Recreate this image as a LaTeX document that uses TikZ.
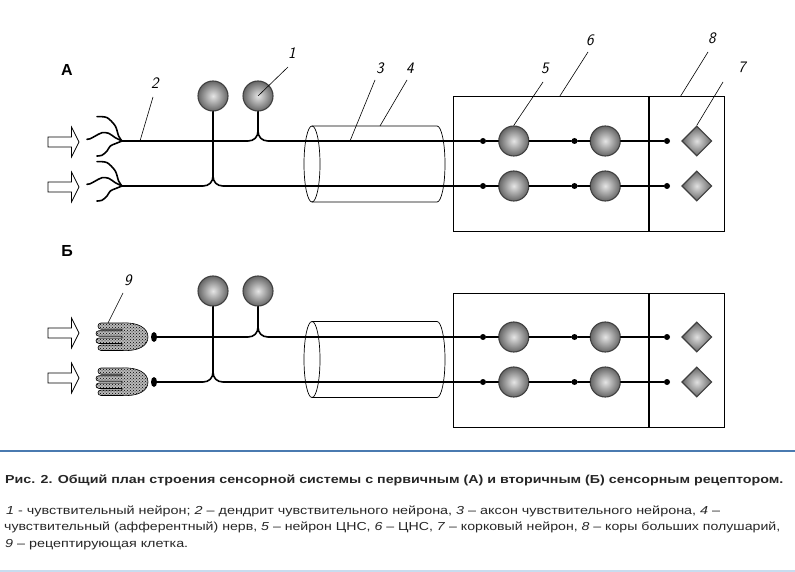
\documentclass[tikz,border=0pt]{standalone}
\usepackage{fontspec}
\setmainfont{Liberation Sans}
\usetikzlibrary{shapes.geometric, positioning, patterns}
\definecolor{rulecol}{HTML}{4A7AB0}
\definecolor{rulelight}{HTML}{C8DCEF}
\newcommand{\fitline}[2]{\resizebox{#1}{\height}{#2}}

\begin{document}
\begin{tikzpicture}[x=1pt, y=-1pt,
    wire/.style={line width=1.6pt, line cap=round},
    thin/.style={line width=0.7pt},
    leader/.style={line width=0.6pt},
    neuron/.style={circle, minimum size=30pt, inner sep=0pt, draw=black!75, line width=1.1pt, inner color=black!10, outer color=black!60},
    cortex/.style={diamond, minimum size=30pt, inner sep=0pt, draw=black!75, line width=1.1pt, inner color=black!12, outer color=black!60},
    dot/.style={circle, fill=black, minimum size=6pt, inner sep=0pt},
    region/.style={rectangle, draw, line width=0.8pt, minimum height=135pt, inner sep=0pt, anchor=north west},
    num/.style={font=\sffamily\itshape\fontsize{16}{16}\selectfont, inner sep=1pt},
    part/.style={font=\bfseries\fontsize{16}{16}\selectfont, inner sep=0pt},
    caption/.style={anchor=base west, inner sep=0pt, text=black!85, font=\fontsize{11.6}{14}\selectfont},
    stim/.pic={\draw[thin, fill=white] (0,-5) -- (23.5,-5) -- (23.5,-15) -- (31,0) -- (23.5,15) -- (23.5,5) -- (0,5) -- cycle;},
    ending/.pic={
        \draw[wire] plot[smooth] coordinates {(0,0) (-3.4,-5) (-6.7,-15) (-15,-23.4) (-25,-24.4)};
        \draw[wire] plot[smooth] coordinates {(0,0) (-6.7,-3.3) (-13.3,-7.7) (-20,-8.3) (-26.7,-5) (-31.7,-2.3) (-35,-1.7)};
        \draw[wire] plot[smooth] coordinates {(0,0) (-6.7,2.7) (-11.7,5) (-15,10) (-20,14.3) (-25,15)};},
    hand/.pic={
        \draw[line width=0.6pt, preaction={fill=gray!55}, pattern=crosshatch dots, pattern color=black]
            (-26,-14) .. controls (-10,-15) and (0,-9) .. (0,0) .. controls (0,9) and (-10,14.5) .. (-26,13.5)
            -- (-47,13.5) .. controls (-51,13.5) and (-51,8) .. (-47,8) -- (-26,8) -- (-26,6.5)
            -- (-49,6.5) .. controls (-53,6.5) and (-53,1) .. (-49,1) -- (-26,1) -- (-26,-0.8)
            -- (-49,-0.8) .. controls (-53,-0.8) and (-53,-6.3) .. (-49,-6.3) -- (-26,-6.3) -- (-26,-7.8)
            -- (-47,-7.8) .. controls (-51,-7.8) and (-51,-14) .. (-47,-14) -- cycle;
        \coordinate (-tip) at (-40,-14);},
    nerve/.pic={
        \draw[thin] (0,0) ellipse [x radius=8, y radius=38];
        \draw[thin] (0,-38) -- (125,-38) arc[start angle=-90, end angle=90, x radius=8, y radius=38] -- (0,38);
        \coordinate (-top) at (68,-38);
        \coordinate (-ax) at (38,-23);}
]
    \useasboundingbox (0,0) rectangle (795,572);

    % Section labels
    \node[part] (secA) at (67,70) {А};
    \node[part] (secB) at (67,251) {Б};

    % Stimuli and receptors
    \pic at (48,142) {stim};
    \pic at (48,187) {stim};
    \pic at (48,333) {stim};
    \pic at (48,378) {stim};
    \coordinate (jA1) at (122,141);
    \coordinate (jA2) at (122,186);
    \pic at (jA1) {ending};
    \pic at (jA2) {ending};
    \pic (hdB1) at (148,337) {hand};
    \pic (hdB2) at (148,382) {hand};
    \node[dot, ellipse, minimum height=10pt] (cellB1) at (154,337) {};
    \node[dot, ellipse, minimum height=10pt] (cellB2) at (154,382) {};

    % Nerves
    \pic (nrvA) at (312,164) {nerve};
    \pic (nrvB) at (312,359.5) {nerve};

    % Sensory neurons
    \node[neuron] (nA1) at (213,96) {};
    \node[neuron] (nA2) at (258,96) {};
    \node[neuron] (nB1) at (213,291) {};
    \node[neuron] (nB2) at (258,291) {};
    \coordinate (kA1) at (213,176);
    \coordinate (kA2) at (258,131);
    \coordinate (kB1) at (213,372);
    \coordinate (kB2) at (258,327);

    % CNS and cortex
    \node[region, minimum width=195pt] (cnsA) at (453,96) {};
    \node[region, minimum width=75pt, right=0pt of cnsA] (ctxA) {};
    \node[region, minimum width=195pt, minimum height=134pt] (cnsB) at (453,293) {};
    \node[region, minimum width=75pt, minimum height=134pt, right=0pt of cnsB] (ctxB) {};
    \foreach \r/\y in {A1/141, A2/186, B1/337, B2/382} {
        \node[dot] (d\r) at (483,\y) {};
        \node[neuron, right=12pt of d\r] (c\r) {};
        \node[dot, right=42pt of c\r] (e\r) {};
        \node[neuron, right=12pt of e\r] (g\r) {};
        \node[dot, right=43pt of g\r] (h\r) {};
        \node[cortex, right=11pt of h\r] (r\r) {};
        \draw[wire] (d\r) -- (c\r) -- (e\r) -- (g\r) -- (h\r);
    }

    % Connect receptors to CNS
    \draw[wire] (nA2) -- (kA2) .. controls +(0,6) and +(6,0) .. ++(-10,10) -- (jA1);
    \draw[wire] (kA2) .. controls +(0,6) and +(-6,0) .. ++(10,10) -- (dA1);
    \draw[wire] (nA1) -- (kA1) .. controls +(0,6) and +(6,0) .. ++(-10,10) -- (jA2);
    \draw[wire] (kA1) .. controls +(0,6) and +(-6,0) .. ++(10,10) -- (dA2);
    \draw[wire] (nB2) -- (kB2) .. controls +(0,6) and +(6,0) .. ++(-10,10) -- (cellB1);
    \draw[wire] (kB2) .. controls +(0,6) and +(-6,0) .. ++(10,10) -- (dB1);
    \draw[wire] (nB1) -- (kB1) .. controls +(0,6) and +(6,0) .. ++(-10,10) -- (cellB2);
    \draw[wire] (kB1) .. controls +(0,6) and +(-6,0) .. ++(10,10) -- (dB2);

    % Numbered callouts
    \node[num] (l1) at (292,53) {1};
    \node[num] (l2) at (155,83) {2};
    \node[num] (l3) at (380,68) {3};
    \node[num] (l4) at (410,68) {4};
    \node[num] (l5) at (545,68) {5};
    \node[num] (l6) at (590,40) {6};
    \node[num] (l7) at (742,67) {7};
    \node[num] (l8) at (712,38) {8};
    \node[num] (l9) at (128,280) {9};
    \draw[leader] ([shift={(-4,14)}]l1.center) -- (nA2.center);
    \draw[leader] ([shift={(-2,14)}]l2.center) -- ([xshift=18pt]jA1);
    \draw[leader] ([shift={(-5,12)}]l3.center) -- (nrvA-ax);
    \draw[leader] ([shift={(-3,12)}]l4.center) -- (nrvA-top);
    \draw[leader] ([shift={(-2,14)}]l5.center) -- (cA1.north);
    \draw[leader] ([shift={(-2,12)}]l6.center) -- ([xshift=9pt]cnsA.north);
    \draw[leader] ([shift={(-19,15)}]l7.center) -- (rA1.north);
    \draw[leader] ([shift={(-4,14)}]l8.center) -- ([xshift=-6pt]ctxA.north);
    \draw[leader] ([shift={(-5,13)}]l9.center) -- (hdB1-tip);

    % Caption
    \draw[rulecol, line width=1.5pt] (0,451) -- (795,451);
    \draw[rulelight, line width=1.5pt] (0,571) -- (795,571);
    \node[caption, font=\bfseries\fontsize{11.6}{14}\selectfont] (title) at (5,483) {\fitline{778pt}{Рис. 2. Общий план строения сенсорной системы с первичным (А) и вторичным (Б) сенсорным рецептором.}};
    \node[caption] (key1) at (6,514.5) {\fitline{714pt}{\textit{1} - чувствительный нейрон; \textit{2} – дендрит чувствительного нейрона, \textit{3} – аксон чувствительного нейрона, \textit{4} –}};
    \node[caption] (key2) at (4,530.5) {\fitline{776pt}{чувствительный (афферентный) нерв, \textit{5} – нейрон ЦНС, \textit{6} – ЦНС, \textit{7} – корковый нейрон, \textit{8} – коры больших полушарий,}};
    \node[caption] (key3) at (5,547) {\fitline{183pt}{\textit{9} – рецептирующая клетка.}};
\end{tikzpicture}
\end{document}
